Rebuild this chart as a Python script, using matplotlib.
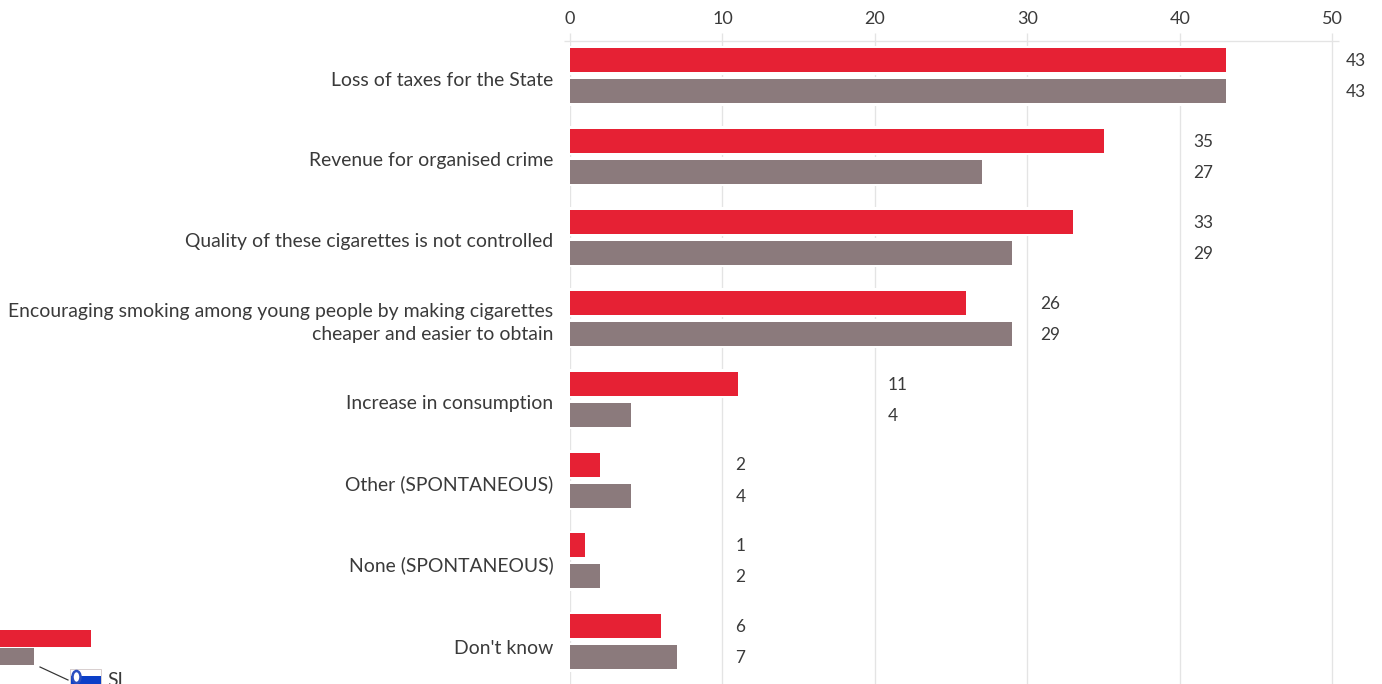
import matplotlib
matplotlib.use('Agg')
import matplotlib.pyplot as plt
from matplotlib.patches import Rectangle, Ellipse

plt.rcParams['font.family'] = ['Lato', 'DejaVu Sans']

categories = ['Loss of taxes for the State',
              'Revenue for organised crime',
              'Quality of these cigarettes is not controlled',
              'Encouraging smoking among young people by making cigarettes\ncheaper and easier to obtain',
              'Increase in consumption',
              'Other (SPONTANEOUS)',
              'None (SPONTANEOUS)',
              "Don't know"]
si_values = [43, 35, 33, 26, 11, 2, 1, 6]
eu_values = [43, 27, 29, 29, 4, 4, 2, 7]
x_ticks = [0, 10, 20, 30, 40, 50]
# clipped bars from the neighbouring chart, bottom left corner
other_chart_values = [91, 34]
other_chart_label = 'SI'

RED = '#e62134'
GREY = '#8b7a7c'
GRID = '#e4e4e4'
TEXT = '#3a3a3a'
W, H = 1382, 684
px = 0.72  # one pixel in points at dpi 100

fig = plt.figure(figsize=(W / 100, H / 100), dpi=100)

# main chart: x 0-50 is 570-1332 px, rows are 80.9 px apart
x0 = 570
scale = (1332.3 - x0) / 50
row = 80.9
ax = fig.add_axes([x0 / W, 0, (W - x0) / W, (H - 41) / H])
ax.set_xlim(0, (W - x0) / scale)
ax.set_ylim((H - 75.5) / row, (41 - 75.5) / row)
ax.patch.set_alpha(0)
for s in ax.spines.values():
    s.set_visible(False)

ax.set_xticks(x_ticks)
ax.xaxis.tick_top()
ax.tick_params(axis='x', length=8 * px, width=1.3 * px, color=GRID, pad=4,
               labelsize=13, labelcolor=TEXT)
ax.set_yticks([])
ax.vlines(x_ticks, ax.get_ylim()[1], ax.get_ylim()[0], color=GRID, lw=1.3 * px, zorder=1)
ax.hlines(ax.get_ylim()[1], -6 / scale, 50 + 7 / scale, color=GRID, lw=1.3 * px,
          clip_on=False, zorder=1)

h = 24 / row
off = 15.5 / row
halo = 29 / row
for i, (a, b) in enumerate(zip(si_values, eu_values)):
    ax.barh(i - off, a, height=halo, color='white', zorder=2)
    ax.barh(i + off, b, height=halo, color='white', zorder=2)
for i, (a, b) in enumerate(zip(si_values, eu_values)):
    ax.barh(i - off, a, height=h, color=RED, zorder=3)
    ax.barh(i + off, b, height=h, color=GREY, zorder=3)

    # value labels sit just right of the next gridline
    lx = (int(max(a, b) - 1) // 10 + 1) * 10
    for y, v in ((i - off, a), (i + off, b)):
        ax.annotate(str(v), (lx, y), xytext=(13 * px, -1 * px), textcoords='offset points',
                    ha='left', va='center', fontsize=12.4, color=TEXT, zorder=4)

    # the two line label and the last one sit a little off the others
    dy = {3: -0.5, 7: -5.5}.get(i, -3)
    ax.annotate(categories[i], (0, i), xytext=(-16.5 * px, dy * px),
                textcoords='offset points', ha='right', va='center_baseline', fontsize=13.95,
                color=TEXT, linespacing=1.38, annotation_clip=False)

# corner fragment, axes in pixels
ax2 = fig.add_axes([0, 0, 130 / W, 64 / H])
ax2.set_xlim(0, 130)
ax2.set_ylim(684, 620)
ax2.axis('off')
ax2.barh([638, 656.5], other_chart_values, height=[17, 17], color=[RED, GREY])
ax2.plot([40, 68], [667, 680], color='#333333', lw=1.2 * px)
ax2.add_patch(Rectangle((70, 669), 31, 7, fc='white', ec='none'))
ax2.add_patch(Rectangle((70, 676), 31, 9, fc='#0b3fc8', ec='none'))
ax2.add_patch(Rectangle((70, 669), 31, 20, fc='none', ec='#d8cfcf', lw=1 * px))
ax2.add_patch(Ellipse((76.5, 677), 8, 12, fc='white', ec='#2a4fc0', lw=2.5 * px))
ax2.text(107, 681, other_chart_label, ha='left', va='center', fontsize=13.95, color=TEXT)

fig.savefig('out.png', dpi=100)
